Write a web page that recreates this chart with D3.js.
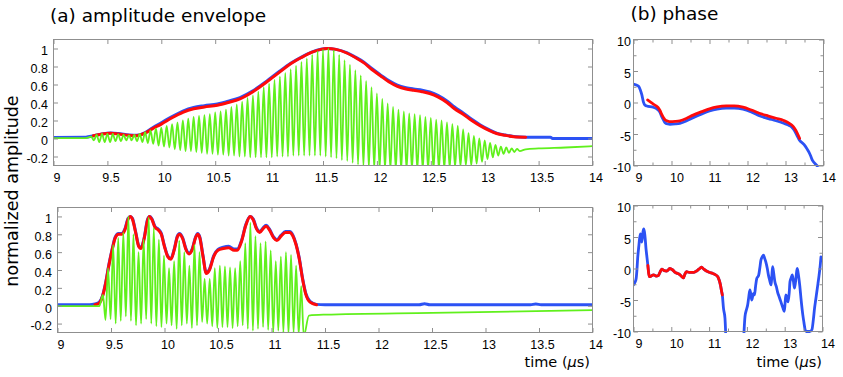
<!DOCTYPE html>
<html>
<head>
<meta charset="utf-8">
<script src="https://cdn.jsdelivr.net/npm/d3@7"></script>
<style>
  body { margin: 0; background: #fff; }
  svg { display: block; font-family: "DejaVu Sans", sans-serif; }
</style>
</head>
<body>
<svg width="843" height="377"></svg>
<script>
// ---------------- data (time in microseconds) ----------------

// (a) top: envelopes [t, amplitude]
const envTopBlue = [[9.0,0.012],[9.3,0.015],[9.37,0.03],[9.45,0.05],[9.53,0.06],[9.6,0.055],[9.7,0.04],[9.77,0.035],
  [9.85,0.065],[9.92,0.12],[10.0,0.175],[10.1,0.245],[10.2,0.305],[10.3,0.345],[10.4,0.365],[10.52,0.385],[10.62,0.415],
  [10.73,0.455],[10.85,0.53],[10.98,0.64],[11.1,0.75],[11.2,0.835],[11.3,0.905],[11.4,0.962],[11.48,0.992],[11.54,1.0],
  [11.62,0.99],[11.72,0.955],[11.8,0.905],[11.88,0.848],[11.95,0.78],[12.03,0.71],[12.11,0.643],[12.19,0.593],[12.27,0.565],
  [12.34,0.55],[12.42,0.537],[12.49,0.517],[12.57,0.478],[12.65,0.418],[12.72,0.35],[12.8,0.285],[12.88,0.213],[12.96,0.15],
  [13.04,0.098],[13.11,0.06],[13.19,0.038],[13.27,0.022],[13.38,0.015],[13.61,0.015],[13.63,0.0],[14.0,0.0]];
const envTopRed = [[9.37,0.03],[9.45,0.05],[9.53,0.057],[9.6,0.05],[9.7,0.035],[9.77,0.03],[9.85,0.06],[9.92,0.11],
  [10.0,0.16],[10.1,0.23],[10.2,0.29],[10.3,0.33],[10.4,0.35],[10.52,0.37],[10.62,0.4],[10.73,0.44],[10.85,0.52],[10.98,0.63],
  [11.1,0.74],[11.2,0.83],[11.3,0.9],[11.4,0.96],[11.48,0.99],[11.54,1.0],[11.62,0.99],[11.72,0.95],[11.8,0.9],[11.88,0.84],
  [11.95,0.77],[12.03,0.7],[12.11,0.63],[12.19,0.58],[12.27,0.55],[12.34,0.535],[12.42,0.52],[12.49,0.5],[12.57,0.46],
  [12.65,0.4],[12.72,0.33],[12.8,0.27],[12.88,0.2],[12.96,0.14],[13.04,0.09],[13.11,0.055],[13.19,0.035],[13.27,0.02],[13.38,0.015]];

// (a) top: raw signal, read as successive crests and troughs of the 20 MHz carrier
const carrierTopStart = 9.35, carrierTopStep = 0.05;
const greenTopHead = [[9.0,0.005],[9.3,0.005]];
const greenTopPeaks = [0.02,0.04,0.05,0.05,0.05,0.045,0.04,0.035,0.04,0.05,
  0.07,0.09,0.11,0.12,0.14,0.16,0.18,0.2,0.22,0.24,
  0.25,0.26,0.27,0.29,0.3,0.32,0.35,0.38,0.41,0.45,
  0.48,0.52,0.57,0.61,0.65,0.69,0.73,0.77,0.81,0.85,
  0.89,0.93,0.97,0.99,1.0,0.98,0.93,0.87,0.82,0.76,
  0.7,0.64,0.57,0.5,0.44,0.39,0.35,0.32,0.3,0.28,
  0.27,0.26,0.24,0.23,0.21,0.2,0.18,0.16,0.14,0.1,
  0.06,0.03,0.0,-0.02,-0.05,-0.07,-0.09,-0.1,-0.11,-0.115];
const greenTopTroughs = [-0.02,-0.04,-0.04,-0.04,-0.03,-0.03,-0.02,-0.02,-0.03,-0.04,
  -0.05,-0.06,-0.08,-0.09,-0.1,-0.12,-0.13,-0.14,-0.14,-0.15,
  -0.16,-0.17,-0.17,-0.18,-0.18,-0.19,-0.19,-0.2,-0.2,-0.21,
  -0.21,-0.21,-0.21,-0.21,-0.2,-0.2,-0.2,-0.19,-0.19,-0.19,
  -0.19,-0.19,-0.19,-0.2,-0.21,-0.22,-0.24,-0.25,-0.27,-0.29,
  -0.31,-0.33,-0.34,-0.35,-0.35,-0.35,-0.35,-0.35,-0.35,-0.35,
  -0.35,-0.35,-0.35,-0.35,-0.35,-0.34,-0.33,-0.32,-0.31,-0.3,
  -0.3,-0.28,-0.26,-0.23,-0.21,-0.19,-0.17,-0.16,-0.15,-0.14];
const greenTopTail = [[13.38,-0.12],[13.5,-0.11],[13.75,-0.1],[14.0,-0.085]];

// (a) bottom: envelopes
const envBotBlue = [[9.0,0.01],[9.3,0.01],[9.35,0.02],[9.39,0.04],[9.42,0.11],[9.45,0.26],[9.48,0.46],[9.51,0.63],[9.54,0.77],
  [9.57,0.81],[9.6,0.81],[9.63,0.86],[9.66,0.98],[9.68,1.0],[9.7,0.98],[9.73,0.83],[9.76,0.67],[9.78,0.65],[9.81,0.76],
  [9.84,0.96],[9.86,1.0],[9.88,0.98],[9.91,0.89],[9.94,0.86],[9.97,0.81],[10.0,0.67],[10.03,0.56],[10.06,0.53],[10.09,0.63],
  [10.12,0.78],[10.14,0.81],[10.17,0.76],[10.2,0.64],[10.23,0.59],[10.26,0.64],[10.29,0.77],[10.31,0.81],[10.33,0.77],
  [10.36,0.56],[10.39,0.37],[10.42,0.41],[10.46,0.56],[10.5,0.63],[10.55,0.655],[10.6,0.665],[10.65,0.635],[10.68,0.635],
  [10.72,0.73],[10.76,0.91],[10.8,1.0],[10.83,0.97],[10.86,0.87],[10.89,0.83],[10.92,0.87],[10.95,0.9],[10.98,0.86],
  [11.02,0.77],[11.05,0.74],[11.09,0.79],[11.13,0.83],[11.17,0.83],[11.2,0.79],[11.23,0.69],[11.26,0.53],[11.29,0.31],
  [11.32,0.14],[11.36,0.05],[11.42,0.015],[11.5,0.01],[12.38,0.01],[12.43,0.022],[12.48,0.01],[13.42,0.01],[13.47,0.02],
  [13.52,0.01],[14.0,0.01]];
const envBotRed = [[9.35,0.01],[9.39,0.03],[9.42,0.1],[9.45,0.25],[9.48,0.45],[9.51,0.62],[9.54,0.76],[9.57,0.8],[9.6,0.8],
  [9.63,0.85],[9.66,0.97],[9.68,1.0],[9.7,0.97],[9.73,0.82],[9.76,0.66],[9.78,0.64],[9.81,0.75],[9.84,0.95],[9.86,1.0],
  [9.88,0.97],[9.91,0.88],[9.94,0.85],[9.97,0.8],[10.0,0.66],[10.03,0.55],[10.06,0.52],[10.09,0.62],[10.12,0.77],[10.14,0.8],
  [10.17,0.75],[10.2,0.63],[10.23,0.58],[10.26,0.63],[10.29,0.76],[10.31,0.8],[10.33,0.76],[10.36,0.55],[10.39,0.36],
  [10.42,0.4],[10.46,0.55],[10.5,0.62],[10.55,0.64],[10.6,0.65],[10.65,0.62],[10.68,0.62],[10.72,0.72],[10.76,0.9],
  [10.8,1.0],[10.83,0.96],[10.86,0.86],[10.89,0.82],[10.92,0.86],[10.95,0.89],[10.98,0.85],[11.02,0.76],[11.05,0.73],
  [11.09,0.78],[11.13,0.82],[11.17,0.82],[11.2,0.78],[11.23,0.68],[11.26,0.52],[11.29,0.3],[11.32,0.13],[11.36,0.04],[11.42,0.01]];

// (a) bottom: raw signal crests and troughs
const carrierBotStart = 9.425, carrierBotStep = 0.0475;
const greenBotHead = [[9.0,-0.005],[9.39,-0.005]];
const greenBotPeaks = [0.12,0.42,0.68,0.76,0.82,1.0,0.8,0.6,0.74,0.99,
  0.87,0.74,0.56,0.42,0.5,0.73,0.6,0.45,0.68,0.6,
  0.3,0.3,0.42,0.45,0.44,0.43,0.42,0.5,0.7,0.93,
  0.78,0.7,0.72,0.62,0.5,0.55,0.6,0.57,0.45,0.22];
const greenBotTroughs = [-0.16,-0.15,-0.2,-0.17,-0.12,-0.17,-0.22,-0.2,-0.15,-0.2,
  -0.23,-0.24,-0.2,-0.22,-0.26,-0.22,-0.2,-0.25,-0.22,-0.18,
  -0.2,-0.23,-0.25,-0.24,-0.24,-0.25,-0.23,-0.22,-0.26,-0.28,
  -0.26,-0.24,-0.27,-0.3,-0.28,-0.3,-0.32,-0.3,-0.32,-0.34];
const greenBotTail = [[11.35,-0.11],[11.5,-0.1],[12.5,-0.08],[14.0,-0.05]];

// (b) phase [t, phase]
const phaseTopBlue = [[9.0,2.9],[9.13,2.6],[9.18,2.0],[9.22,1.2],[9.26,0.1],[9.3,-0.4],[9.35,-0.55],[9.52,-0.75],[9.65,-1.2],
  [9.7,-1.6],[9.74,-2.2],[9.79,-2.8],[9.83,-3.2],[9.9,-3.4],[9.96,-3.45],[10.1,-3.4],[10.22,-3.3],[10.4,-2.9],[10.57,-2.4],
  [10.8,-1.8],[11.0,-1.35],[11.2,-1.05],[11.44,-0.9],[11.65,-0.9],[11.88,-1.05],[12.1,-1.5],[12.31,-2.1],[12.55,-2.55],
  [12.75,-2.9],[12.95,-3.3],[13.1,-3.65],[13.18,-4.0],[13.23,-4.4],[13.3,-5.2],[13.36,-5.9],[13.49,-6.7],[13.56,-7.3],
  [13.62,-7.9],[13.67,-8.6],[13.71,-9.2],[13.76,-9.6],[13.84,-10.1]];
const phaseTopRed = [[9.37,0.4],[9.45,0.05],[9.52,-0.25],[9.6,-0.55],[9.65,-0.8],[9.7,-1.3],[9.74,-1.85],[9.79,-2.4],
  [9.83,-2.75],[9.9,-2.95],[9.96,-3.05],[10.1,-3.0],[10.22,-2.9],[10.4,-2.5],[10.57,-2.0],[10.8,-1.45],[11.0,-1.0],
  [11.2,-0.7],[11.44,-0.55],[11.65,-0.55],[11.88,-0.75],[12.1,-1.2],[12.31,-1.7],[12.55,-2.15],[12.75,-2.5],[12.95,-2.85],
  [13.1,-3.3],[13.2,-3.8],[13.27,-4.4],[13.32,-5.0],[13.37,-5.7]];
const phaseBotBlueA = [[9.0,-2.6],[9.04,-2.2],[9.07,-1.6],[9.09,-0.3],[9.11,1.6],[9.14,3.5],[9.18,5.5],[9.2,5.0],[9.22,4.2],
  [9.25,5.8],[9.27,6.3],[9.29,5.8],[9.31,4.7],[9.33,3.2],[9.35,2.1],[9.38,0.5],[9.42,-1.3],[9.47,-1.2],[9.53,-1.0],
  [9.6,-1.2],[9.66,-1.1],[9.7,-0.6],[9.75,-0.1],[9.8,-0.3],[9.88,-0.4],[9.96,0.0],[10.03,-0.2],[10.1,-0.6],[10.17,-0.8],
  [10.23,-1.0],[10.28,-1.3],[10.32,-1.5],[10.36,-0.9],[10.4,-0.5],[10.47,-0.6],[10.54,-0.6],[10.6,-0.6],[10.67,-0.4],
  [10.73,-0.1],[10.8,0.2],[10.86,-0.1],[10.93,-0.4],[11.0,-0.6],[11.1,-0.8],[11.17,-1.0],[11.23,-1.3],[11.27,-1.9],
  [11.3,-2.6],[11.33,-3.6],[11.35,-4.2],[11.38,-6.3],[11.42,-7.9],[11.44,-10.5]];
const phaseBotBlueB = [[11.92,-10.5],[11.95,-7.6],[11.99,-6.5],[12.02,-5.8],[12.05,-4.5],[12.08,-3.4],[12.11,-4.3],
  [12.13,-5.0],[12.17,-4.0],[12.2,-4.2],[12.23,-2.8],[12.26,-1.6],[12.31,-1.1],[12.34,0.0],[12.37,1.3],[12.41,1.9],
  [12.44,2.1],[12.47,1.6],[12.5,1.05],[12.54,0.0],[12.57,-1.05],[12.6,-1.8],[12.64,-2.6],[12.66,-1.2],[12.68,0.3],
  [12.71,-0.8],[12.74,-2.1],[12.78,-2.9],[12.81,-3.7],[12.86,-4.6],[12.9,-5.3],[12.95,-6.2],[12.99,-6.8],[13.01,-5.5],
  [13.03,-4.2],[13.06,-4.6],[13.09,-5.3],[13.12,-3.8],[13.14,-2.1],[13.17,-1.5],[13.2,-1.0],[13.23,-2.0],[13.26,-3.1],
  [13.3,-1.4],[13.33,0.0],[13.35,-0.5],[13.37,-1.3],[13.4,-2.8],[13.43,-4.7],[13.48,-7.4],[13.51,-8.6],[13.54,-9.7],
  [13.57,-10.0],[13.61,-10.0],[13.66,-10.0],[13.72,-9.7],[13.76,-8.0],[13.79,-6.3],[13.82,-5.0],[13.85,-3.7],[13.88,-2.4],
  [13.91,-1.05],[13.94,0.5],[13.96,1.85]];
const phaseBotRed = [[9.38,0.5],[9.42,-1.3],[9.47,-1.2],[9.53,-1.0],[9.6,-1.2],[9.66,-1.1],[9.7,-0.6],[9.75,-0.1],[9.8,-0.3],
  [9.88,-0.4],[9.96,0.0],[10.03,-0.2],[10.1,-0.6],[10.17,-0.8],[10.23,-1.0],[10.28,-1.3],[10.32,-1.5],[10.36,-0.9],
  [10.4,-0.5],[10.47,-0.6],[10.54,-0.6],[10.6,-0.6],[10.67,-0.4],[10.73,-0.1],[10.8,0.2],[10.86,-0.1],[10.93,-0.4],
  [11.0,-0.6],[11.1,-0.8],[11.17,-1.0],[11.23,-1.3],[11.27,-1.9],[11.3,-2.6],[11.33,-3.6],[11.35,-4.2]];

// tick values
const ampXTicks = [9,9.5,10,10.5,11,11.5,12,12.5,13,13.5,14];
const ampYTicks = [-0.2,0,0.2,0.4,0.6,0.8,1];
const phaseXTicks = [9,10,11,12,13,14];
const phaseXMinor = [9.5,10.5,11.5,12.5,13.5];
const phaseYTicks = [-10,-5,0,5,10];
const phaseYMinor = [-7.5,-2.5,2.5,7.5];

// ---------------- drawing ----------------
const svg = d3.select('svg');
const BLUE = '#2c52f4', RED = '#ff0a0a', GREEN = '#60f01c', FRAME = '#8f8f8f';

// turn crest/trough lists into one polyline
function carrier(head, start, step, peaks, troughs, tail) {
    var pts = head.slice();
    peaks.forEach(function (p, i) {
        pts.push([start + i * step, p]);
        pts.push([start + (i + 0.5) * step, troughs[i]]);
    });
    return pts.concat(tail);
}

function makePanel(id, box, yDomain, o) {
    var x = d3.scaleLinear().domain([9, 14]).range([box.left, box.right]);
    var y = d3.scaleLinear().domain(yDomain).range([box.bottom, box.top]);

    svg.append('clipPath').attr('id', id)
        .append('rect')
        .attr('x', box.left).attr('y', box.top - o.pad)
        .attr('width', box.right - box.left)
        .attr('height', box.bottom - box.top + 2 * o.pad);

    var plot = svg.append('g').attr('clip-path', 'url(#' + id + ')');

    var addAxis = function (axis, tx, ty, label) {
        var a = svg.append('g')
            .attr('transform', 'translate(' + tx + ',' + ty + ')')
            .call(axis);
        a.select('.domain').remove();
        a.selectAll('.tick line').attr('stroke', FRAME);
        if (!label) a.selectAll('text').remove();
        return a;
    };

    // ticks inside the box on all four sides
    var sides = function (xv, yv, len) {
        addAxis(d3.axisBottom(x).tickValues(xv).tickSize(-len), 0, box.bottom, false);
        addAxis(d3.axisTop(x).tickValues(xv).tickSize(-len), 0, box.top, false);
        addAxis(d3.axisLeft(y).tickValues(yv).tickSize(-len), box.left, 0, false);
        addAxis(d3.axisRight(y).tickValues(yv).tickSize(-len), box.right, 0, false);
    };
    sides(o.xTicks, o.yTicks, 4.5);
    if (o.xMinor) sides(o.xMinor, o.yMinor, 3);

    // tick labels
    addAxis(d3.axisBottom(x).tickValues(o.xTicks).tickSize(0).tickFormat(d => String(d)), 0, box.bottom, true)
        .selectAll('text')
        .attr('y', 16.5).attr('dy', null).attr('dx', o.dx)
        .style('font-size', '12.5px').attr('fill', '#000');
    addAxis(d3.axisLeft(y).tickValues(o.yTicks).tickSize(0).tickFormat(d => String(d)), box.left, 0, true)
        .selectAll('text')
        .attr('x', -o.ygap).attr('dy', 6.3)
        .style('font-size', '12.5px').attr('fill', '#000');

    return {x: x, y: y, plot: plot, box: box};
}

function drawLine(p, data, color, width) {
    var line = d3.line()
        .x(d => p.x(d[0]))
        .y(d => p.y(d[1]))
        .curve(d3.curveMonotoneX);
    p.plot.append('path')
        .datum(data)
        .attr('d', line)
        .attr('fill', 'none')
        .attr('stroke', color)
        .attr('stroke-width', width)
        .attr('stroke-linejoin', 'round')
        .attr('stroke-linecap', 'round');
}

function frame(p) {
    svg.append('rect')
        .attr('x', p.box.left).attr('y', p.box.top)
        .attr('width', p.box.right - p.box.left)
        .attr('height', p.box.bottom - p.box.top)
        .attr('fill', 'none').attr('stroke', FRAME).attr('stroke-width', 1);
}

var ampOpts = {xTicks: ampXTicks, yTicks: ampYTicks, dx: 3, ygap: 5.5, pad: 0};
var phaseOpts = {xTicks: phaseXTicks, yTicks: phaseYTicks, xMinor: phaseXMinor, yMinor: phaseYMinor, dx: 5, ygap: 2.5, pad: 1.5};

//-------------------- (a) top --------------------
var pa1 = makePanel('clipA1', {left: 53.5, right: 592.5, top: 39.5, bottom: 165.5}, [-0.3, 1.1], ampOpts);
drawLine(pa1, envTopBlue, BLUE, 3);
drawLine(pa1, envTopRed, RED, 3);
drawLine(pa1, carrier(greenTopHead, carrierTopStart, carrierTopStep, greenTopPeaks, greenTopTroughs, greenTopTail), GREEN, 1.8);
frame(pa1);

//-------------------- (a) bottom --------------------
var pa2 = makePanel('clipA2', {left: 57.5, right: 592.5, top: 207.5, bottom: 332.5}, [-0.3, 1.1], ampOpts);
drawLine(pa2, envBotBlue, BLUE, 3);
drawLine(pa2, envBotRed, RED, 3);
drawLine(pa2, carrier(greenBotHead, carrierBotStart, carrierBotStep, greenBotPeaks, greenBotTroughs, greenBotTail), GREEN, 1.8);
frame(pa2);

//-------------------- (b) top --------------------
var pb1 = makePanel('clipB1', {left: 633.5, right: 823.5, top: 39.5, bottom: 165.5}, [-10, 10], phaseOpts);
drawLine(pb1, phaseTopBlue, BLUE, 2.8);
drawLine(pb1, phaseTopRed, RED, 2.8);
frame(pb1);

//-------------------- (b) bottom --------------------
var pb2 = makePanel('clipB2', {left: 633.5, right: 822.5, top: 205.5, bottom: 331.5}, [-10, 10], phaseOpts);
drawLine(pb2, phaseBotBlueA, BLUE, 2.8);
drawLine(pb2, phaseBotBlueB, BLUE, 2.8);
drawLine(pb2, phaseBotRed, RED, 2.8);
frame(pb2);

//-------------------- texts --------------------
svg.append('text')
    .attr('x', 50).attr('y', 21.5)
    .style('font-size', '18.5px')
    .text('(a) amplitude envelope');

svg.append('text')
    .attr('x', 630.5).attr('y', 19.5)
    .style('font-size', '18.5px')
    .text('(b) phase');

svg.append('text')
    .attr('text-anchor', 'middle')
    .attr('transform', 'translate(18,191) rotate(-90)')
    .style('font-size', '17.5px')
    .text('normalized amplitude');

[590, 822].forEach(function (xr) {
    var t = svg.append('text')
        .attr('text-anchor', 'end')
        .attr('x', xr).attr('y', 366.5)
        .style('font-size', '14.5px');
    t.append('tspan').text('time (');
    t.append('tspan').style('font-style', 'italic').text('\u00b5');
    t.append('tspan').text('s)');
});
</script>
</body>
</html>
